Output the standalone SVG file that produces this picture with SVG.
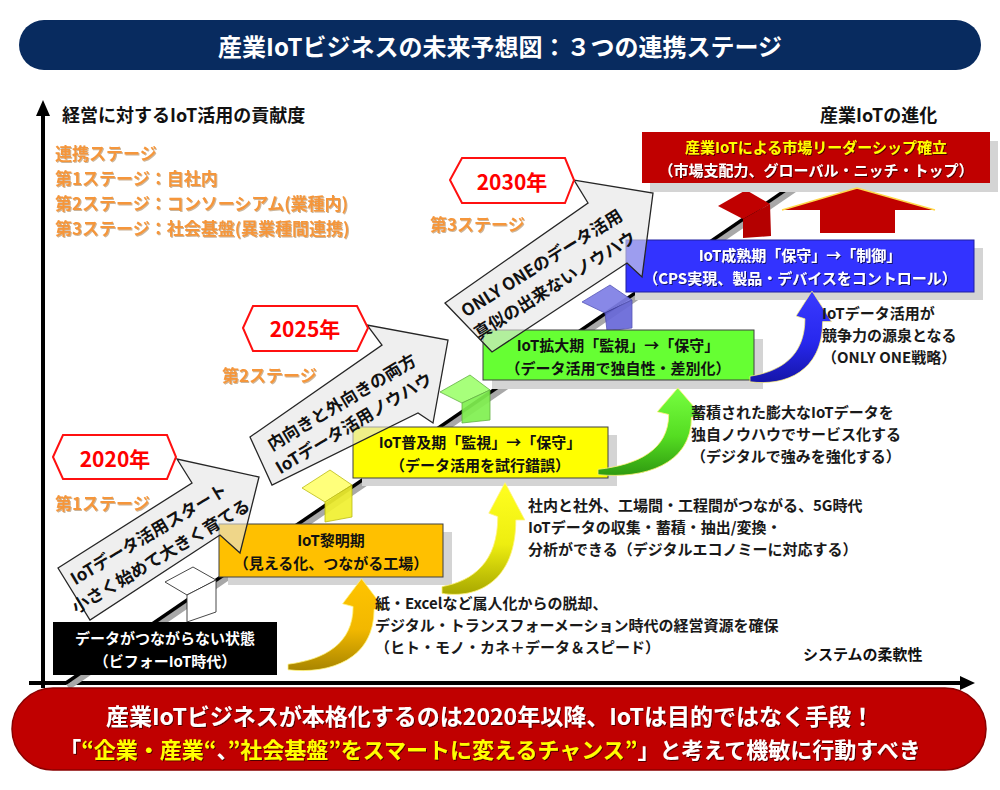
<svg xmlns="http://www.w3.org/2000/svg" width="1000" height="790" viewBox="0 0 1000 790">
<defs>
<style>
text{font-family:'Noto Sans CJK JP','Noto Sans',sans-serif;font-weight:700;}
.c{text-anchor:middle;dominant-baseline:central;}
.l{dominant-baseline:central;}
.or{fill:#F5963A;font-size:17px;filter:url(#osh);}
.bt{font-size:15px;}
.side{font-size:15px;fill:#1a1a1a;}
.wt{fill:#ffffff;filter:url(#dsh);}
.shadow{fill:#D4D4D4;}
.hex{fill:#ffffff;stroke:#FF1010;stroke-width:2;}
.year{fill:#FF0000;font-size:21px;}
.garrow{fill:#E4E4E4;fill-opacity:0.6;stroke:#262626;stroke-width:1.3;stroke-linejoin:miter;}
.atext{font-size:17px;fill:#111;}
.carrow{stroke:#FFF27A;stroke-width:0.8;}
</style>
<filter id="osh" x="-5%" y="-20%" width="110%" height="140%">
<feDropShadow dx="1" dy="1" stdDeviation="0.6" flood-color="#8a5a20" flood-opacity="0.45"/>
</filter>
<filter id="dsh" x="-5%" y="-20%" width="110%" height="140%">
<feDropShadow dx="1" dy="1" stdDeviation="0.5" flood-color="#000" flood-opacity="0.6"/>
</filter>
<linearGradient id="gGold" x1="0" y1="0" x2="0" y2="1">
<stop offset="0" stop-color="#FFC400"/><stop offset="0.55" stop-color="#F2B800"/><stop offset="1" stop-color="#A88500"/>
</linearGradient>
<linearGradient id="gYel" x1="0" y1="0" x2="0" y2="1">
<stop offset="0" stop-color="#FFFF20"/><stop offset="0.55" stop-color="#EEEE10"/><stop offset="1" stop-color="#A8A800"/>
</linearGradient>
<linearGradient id="gGrn" x1="0" y1="0" x2="0" y2="1">
<stop offset="0" stop-color="#77FF40"/><stop offset="0.55" stop-color="#55DD22"/><stop offset="1" stop-color="#2F9A10"/>
</linearGradient>
<linearGradient id="gBlu" x1="0" y1="0" x2="0" y2="1">
<stop offset="0" stop-color="#3A3AFF"/><stop offset="0.55" stop-color="#2828EE"/><stop offset="1" stop-color="#1515A8"/>
</linearGradient>
<path id="curv" d="M 0,-3 C 35,-8 62,-25 62,-65 L 52,-68 L 70,-95 L 92,-62 L 82,-62 C 82,-8 40,8 0,3 Z"/>
</defs>

<rect width="1000" height="790" fill="#ffffff"/>

<g id="title">
<rect x="19" y="20" width="962" height="50" rx="25" fill="#082B5F"/>
<text class="c" x="500" y="45" fill="#ffffff" font-size="24px">産業IoTビジネスの未来予想図：３つの連携ステージ</text>
</g>

<g id="axes">
<line x1="43" y1="688" x2="43" y2="114" stroke="#000" stroke-width="4"/>
<polygon points="43,100 36,116 50,116" fill="#000"/>
<line x1="29" y1="683" x2="962" y2="683" stroke="#000" stroke-width="4"/>
<polygon points="975,683 960,676 960,690" fill="#000"/>
<text class="l" x="62" y="114" font-size="18px" fill="#111">経営に対するIoT活用の貢献度</text>
<text class="l" x="820" y="114" font-size="18px" fill="#111">産業IoTの進化</text>
<text class="l" x="803" y="653" font-size="15px" fill="#111">システムの柔軟性</text>
</g>

<g id="stage-legend">
<text class="l or" x="55" y="152">連携ステージ</text>
<text class="l or" x="55" y="177">第1ステージ：自社内</text>
<text class="l or" x="55" y="202">第2ステージ：コンソーシアム(業種内)</text>
<text class="l or" x="55" y="227">第3ステージ：社会基盤(異業種間連携)</text>
<text class="l or" x="430" y="223">第3ステージ</text>
<text class="l or" x="222" y="374">第2ステージ</text>
<text class="l or" x="55" y="502">第1ステージ</text>
</g>

<g id="connectors">
<line x1="68" y1="687" x2="814" y2="176" stroke="#A8A8A8" stroke-width="6"/>
<line x1="66" y1="683" x2="812" y2="172" stroke="#000" stroke-width="3.5"/>
</g>

<g id="steps">
<g id="step-white">
<polygon points="165,582 193,567 216,580 187,595" fill="#ffffff" stroke="#333" stroke-width="0.9"/>
<polygon points="187,595 216,580 216,612 187,622" fill="#ffffff" stroke="#333" stroke-width="0.9"/>
</g>
<g id="step-yellow" opacity="0.92">
<polygon points="302,488 330,470 352,485 325,502" fill="#FFFF70" stroke="#B5B500" stroke-width="0.8"/>
<polygon points="325,502 352,485 352,517 325,522" fill="#F0F030" stroke="#B5B500" stroke-width="0.8"/>
</g>
<g id="step-green" opacity="0.92">
<polygon points="440,392 470,375 490,390 462,403" fill="#A0FF70" stroke="#55AA33" stroke-width="0.8"/>
<polygon points="462,403 490,390 490,420 462,423" fill="#80F050" stroke="#55AA33" stroke-width="0.8"/>
</g>
<g id="step-purple" opacity="0.92">
<polygon points="582,302 610,285 632,300 605,313" fill="#7E7EE6" stroke="#4A4AB0" stroke-width="0.8"/>
<polygon points="605,313 632,300 632,328 607,331" fill="#6868D8" stroke="#4A4AB0" stroke-width="0.8"/>
</g>
<g id="step-red">
<polygon points="718,206 746,190 770,204 743,219" fill="#C00000"/>
<polygon points="743,219 770,204 771,236 743,238" fill="#B40000"/>
</g>
</g>

<g id="node-before">
<rect x="53" y="622" width="224" height="53" fill="#000"/>
<text class="c bt" x="165" y="637" fill="#fff">データがつながらない状態</text>
<text class="c bt" x="165" y="660" fill="#fff">（ビフォーIoT時代）</text>
</g>

<g id="node-dawn">
<rect class="shadow" x="228" y="532" width="224" height="53"/>
<rect x="219" y="524" width="224" height="53" fill="#FFC000" stroke="#404040" stroke-width="1"/>
<text class="c bt" x="331" y="539" fill="#111">IoT黎明期</text>
<text class="c bt" x="331" y="562" fill="#111">（見える化、つながる工場）</text>
</g>

<g id="node-spread">
<rect class="shadow" x="362" y="435" width="255" height="51"/>
<rect x="353" y="427" width="255" height="51" fill="#FFFF00" stroke="#404040" stroke-width="1"/>
<text class="c bt" x="480" y="441" fill="#111">IoT普及期「監視」→「保守」</text>
<text class="c bt" x="480" y="464" fill="#111">（データ活用を試行錯誤）</text>
</g>

<g id="node-expand">
<rect class="shadow" x="492" y="339" width="271" height="50"/>
<rect x="483" y="330" width="271" height="50" fill="#66FF33" stroke="#404040" stroke-width="1"/>
<text class="c bt" x="618" y="344" fill="#111">IoT拡大期「監視」→「保守」</text>
<text class="c bt" x="618" y="367" fill="#111">（データ活用で独自性・差別化）</text>
</g>

<g id="node-mature">
<rect class="shadow" x="635" y="248" width="348" height="52"/>
<rect x="626" y="240" width="348" height="52" fill="#3333FF" stroke="#2020A0" stroke-width="1"/>
<text class="c bt wt" x="800" y="254">IoT成熟期「保守」→「制御」</text>
<text class="c bt wt" x="800" y="277">（CPS実現、製品・デバイスをコントロール）</text>
</g>

<g id="node-leader">
<rect class="shadow" x="650" y="141" width="348" height="51"/>
<rect x="642" y="132" width="348" height="51" fill="#C00000"/>
<text class="c bt" x="816" y="146" fill="#FFFF00" filter="url(#dsh)">産業IoTによる市場リーダーシップ確立</text>
<text class="c bt wt" x="816" y="169">（市場支配力、グローバル・ニッチ・トップ）</text>
</g>

<g id="node-arrow1">
<polygon class="garrow" points="58,568 192,483 177,459 259,477 240,553 220,535 90,620"/>
<text class="c atext" transform="translate(148,533) rotate(-31)">IoTデータ活用スタート</text>
<text class="c atext" transform="translate(160,555) rotate(-31)">小さく始めて大きく育てる</text>
</g>

<g id="node-arrow2">
<polygon class="garrow" points="250,437 382,345 367,325 448,340 433,423 418,413 272,485"/>
<text class="c atext" transform="translate(341,401) rotate(-31)">内向きと外向きの両方</text>
<text class="c atext" transform="translate(353,422) rotate(-31)">IoTデータ活用ノウハウ</text>
</g>

<g id="node-arrow3">
<polygon class="garrow" points="445,303 588,203 574,180 653,193 642,277 627,263 492,352"/>
<text class="c atext" transform="translate(541,262) rotate(-32)">ONLY ONEのデータ活用</text>
<text class="c atext" transform="translate(554,284) rotate(-32)">真似の出来ないノウハウ</text>
</g>

<g id="node-2020">
<polygon class="hex" points="53,457 63,435 167,435 176,457 167,479 63,479"/>
<text class="c year" x="115" y="458">2020年</text>
</g>
<g id="node-2025">
<polygon class="hex" points="243,328 253,306 357,306 368,328 357,351 253,351"/>
<text class="c year" x="305" y="328">2025年</text>
</g>
<g id="node-2030">
<polygon class="hex" points="450,180 462,158 565,158 574,180 565,203 462,203"/>
<text class="c year" x="512" y="181">2030年</text>
</g>

<g id="connectors-curved">
<use href="#curv" class="carrow" fill="url(#gGold)" transform="translate(288,667) scale(1.05,0.93)"/>
<use href="#curv" class="carrow" fill="url(#gYel)" transform="translate(442,590) scale(0.9,1.13)"/>
<use href="#curv" class="carrow" fill="url(#gGrn)" transform="translate(598,472) scale(1.14,0.885)"/>
<use href="#curv" class="carrow" fill="url(#gBlu)" transform="translate(750,379) scale(0.886,0.926)"/>
<g id="up-arrow">
<polygon points="857,188 935,210 895,210 895,233 820,233 820,210 782,210" fill="#C00000"/>
<polyline points="782,210 857,188 935,210" fill="none" stroke="#FFD84A" stroke-width="1.6"/>
</g>
</g>

<g id="notes">
<text class="l side" x="375" y="602">紙・Excelなど属人化からの脱却、</text>
<text class="l side" x="375" y="624">デジタル・トランスフォーメーション時代の経営資源を確保</text>
<text class="l side" x="375" y="646">（ヒト・モノ・カネ＋データ＆スピード）</text>
<text class="l side" x="528" y="504">社内と社外、工場間・工程間がつながる、5G時代</text>
<text class="l side" x="528" y="526">IoTデータの収集・蓄積・抽出/変換・</text>
<text class="l side" x="528" y="548">分析ができる（デジタルエコノミーに対応する）</text>
<text class="l side" x="691" y="411">蓄積された膨大なIoTデータを</text>
<text class="l side" x="691" y="433">独自ノウハウでサービス化する</text>
<text class="l side" x="691" y="455">（デジタルで強みを強化する）</text>
<text class="l side" x="822" y="312">IoTデータ活用が</text>
<text class="l side" x="822" y="334">競争力の源泉となる</text>
<text class="l side" x="822" y="356">（ONLY ONE戦略）</text>
</g>

<g id="banner">
<rect x="12" y="688" width="974" height="82" rx="41" fill="#C00000" stroke="#8A0000" stroke-width="1.5"/>
<text class="c" x="490" y="715" font-size="23px" fill="#fff" filter="url(#dsh)">産業IoTビジネスが本格化するのは2020年以降、IoTは目的ではなく手段！</text>
<text class="c" x="490" y="748" font-size="22px" filter="url(#dsh)"><tspan fill="#fff">「</tspan><tspan fill="#FFFF00">“企業・産業“</tspan><tspan fill="#fff">、</tspan><tspan fill="#FFFF00">”社会基盤”をスマートに変えるチャンス”</tspan><tspan fill="#fff">」と考えて機敏に行動すべき</tspan></text>
</g>
</svg>
